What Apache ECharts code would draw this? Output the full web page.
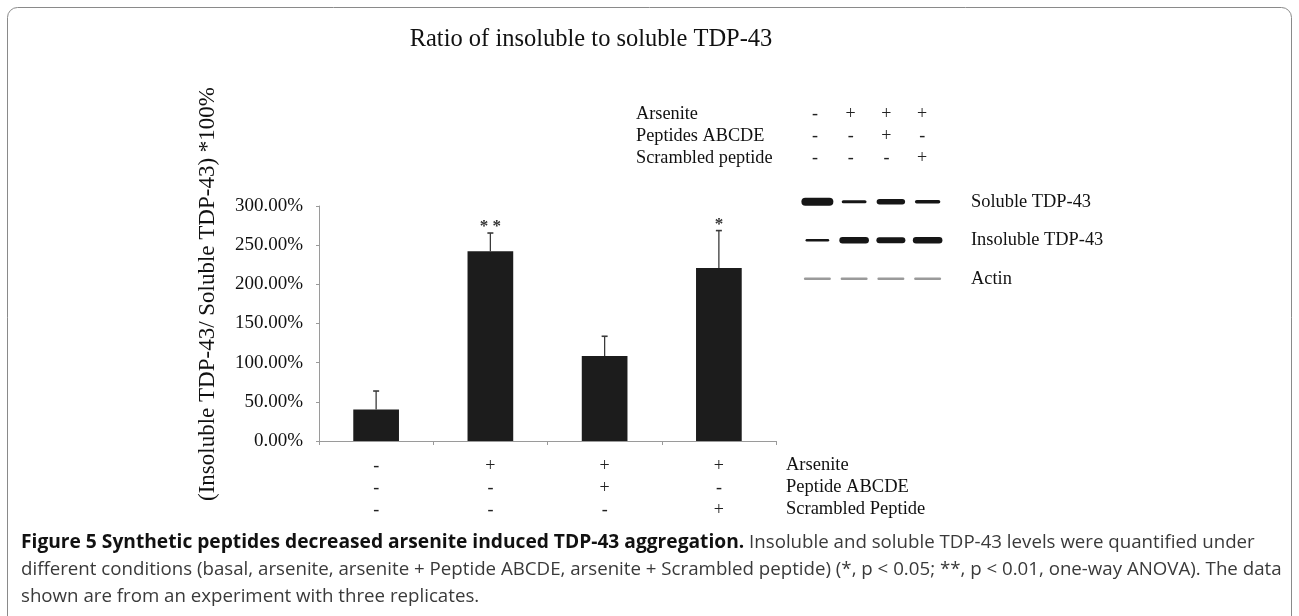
<!DOCTYPE html>
<html><head><meta charset="utf-8">
<script src="https://cdn.jsdelivr.net/npm/echarts@6/dist/echarts.min.js"></script>
<style>html,body{margin:0;padding:0;background:#fff}#c{width:1299px;height:616px}</style>
</head><body><div id="c"></div>
<script>
// ---- data ----
const conditions = ['Basal', 'Arsenite', 'Arsenite + Peptide ABCDE', 'Arsenite + Scrambled peptide'];
const arsenite = ['-', '+', '+', '+'];
const peptideABCDE = ['-', '-', '+', '-'];
const scrambledPeptide = ['-', '-', '-', '+'];
const bottomRowNames = ['Arsenite', 'Peptide ABCDE', 'Scrambled Peptide'];
const ratioMean = [40.1, 242.2, 108.5, 220.9];     // %
const ratioError = [23.7, 23.3, 25.2, 47.7];       // % (upper error)
const significance = ['', '* *', '', '*'];
const yMin = 0, yMax = 300, yStep = 50;

const blotLanes = ['1', '2', '3', '4'];
const blotRows = ['Soluble TDP-43', 'Insoluble TDP-43', 'Actin'];
const solubleIntensity = [1.0, 0.4, 0.7, 0.45];
const insolubleIntensity = [0.3, 0.8, 0.75, 0.8];
const actinIntensity = [0.3, 0.3, 0.3, 0.3];

const tableRows = ['Arsenite', 'Peptides ABCDE', 'Scrambled peptide'];
const tableArsenite = ['-', '+', '+', '+'];
const tablePeptides = ['-', '-', '+', '-'];
const tableScrambled = ['-', '-', '-', '+'];

const title = 'Ratio of insoluble to soluble TDP-43';
const yTitle = '(Insoluble TDP-43/ Soluble TDP-43) *100%';
const captionBold = 'Figure 5 Synthetic peptides decreased arsenite induced TDP-43 aggregation.';
const captionLines = [
  ' Insoluble and soluble TDP-43 levels were quantified under',
  'different conditions (basal, arsenite, arsenite + Peptide ABCDE, arsenite + Scrambled peptide) (*, p < 0.05; **, p < 0.01, one-way ANOVA). The data',
  'shown are from an experiment with three replicates.'
];

// ---- build ----
const SERIF = '"Liberation Serif", "Times New Roman", serif';
const SANS = '"Open Sans", "Noto Sans", sans-serif';

const errData = ratioMean.map((m, i) => [i, m, m + ratioError[i]]);
const blotData = [];
[solubleIntensity, insolubleIntensity, actinIntensity].forEach((arr, r) => arr.forEach((v, l) => blotData.push([l, r, v])));
const tableData = [];
[tableArsenite, tablePeptides, tableScrambled].forEach((arr, r) => arr.forEach((v, l) => tableData.push([l, r, v])));

const chart = echarts.init(document.getElementById('c'));
chart.setOption({
  backgroundColor: '#fff',
  animation: false,
  title: {
    text: title, left: 586, top: 22, textAlign: 'center',
    textStyle: { fontFamily: SERIF, fontSize: 24.5, fontWeight: 'normal', color: '#111' }
  },
  grid: [
    { left: 319, top: 206, right: 523, bottom: 175 },
    { left: 799, top: 182.5, width: 147, height: 115.5 },
    { left: 797, top: 103, width: 143, height: 66.6 }
  ],
  xAxis: [
    {
      gridIndex: 0, type: 'category', data: conditions,
      axisLine: { lineStyle: { color: '#9a9a9a', width: 1 } },
      axisTick: { show: true, length: 4, lineStyle: { color: '#9a9a9a' } },
      axisLabel: {
        interval: 0, margin: 14, fontFamily: SERIF, fontSize: 18, lineHeight: 22, color: '#222',
        formatter: (v, i) => arsenite[i] + '\n' + peptideABCDE[i] + '\n' + scrambledPeptide[i]
      }
    },
    { gridIndex: 1, type: 'category', data: blotLanes, show: false },
    { gridIndex: 2, type: 'category', data: blotLanes, show: false }
  ],
  yAxis: [
    {
      gridIndex: 0, type: 'value', min: yMin, max: yMax, interval: yStep,
      splitLine: { show: false },
      axisLine: { show: true, lineStyle: { color: '#9a9a9a', width: 1 } },
      axisTick: { show: true, length: 3, lineStyle: { color: '#9a9a9a' } },
      axisLabel: {
        margin: 16, fontFamily: SERIF, fontSize: 19, color: '#111',
        formatter: v => v.toFixed(2) + '%'
      }
    },
    {
      gridIndex: 1, type: 'category', data: blotRows, inverse: true, position: 'right',
      axisLine: { show: false }, axisTick: { show: false }, splitLine: { show: false },
      axisLabel: { interval: 0, align: 'left', margin: 25, fontFamily: SERIF, fontSize: 18.4, color: '#111' }
    },
    {
      gridIndex: 2, type: 'category', data: tableRows, inverse: true, position: 'left',
      axisLine: { show: false }, axisTick: { show: false }, splitLine: { show: false },
      axisLabel: { interval: 0, hideOverlap: false, align: 'left', margin: 161, fontFamily: SERIF, fontSize: 18.3, color: '#111' }
    }
  ],
  series: [
    {
      type: 'bar', xAxisIndex: 0, yAxisIndex: 0, data: ratioMean, barWidth: '40%',
      itemStyle: { color: '#1c1c1c' }
    },
    {
      type: 'custom', xAxisIndex: 0, yAxisIndex: 0, data: errData, z: 5,
      encode: { x: 0, y: [1, 2] },
      renderItem: (params, api) => {
        const x = api.value(0);
        const base = api.coord([x, api.value(1)]);
        const top = api.coord([x, api.value(2)]);
        const children = [
          { type: 'line', shape: { x1: base[0], y1: base[1], x2: top[0], y2: top[1] }, style: { stroke: '#3a3a3a', lineWidth: 1.3 } },
          { type: 'line', shape: { x1: top[0] - 3, y1: top[1], x2: top[0] + 3, y2: top[1] }, style: { stroke: '#3a3a3a', lineWidth: 1.6 } }
        ];
        const s = significance[params.dataIndex];
        if (s) children.push({ type: 'text', x: top[0], y: top[1] - 6, style: { text: s, font: 'bold 17px ' + SERIF, fill: '#333', align: 'center', verticalAlign: 'middle' } });
        return { type: 'group', children };
      }
    },
    {
      type: 'custom', xAxisIndex: 1, yAxisIndex: 1, data: blotData,
      renderItem: (params, api) => {
        const row = api.value(1), inten = api.value(2);
        const c = api.coord([api.value(0), row]);
        const h = Math.max(2.2, 8 * inten);
        const w = row === 2 ? 27 : 20 + 12 * inten;
        return { type: 'rect', shape: { x: c[0] - w / 2, y: c[1] - h / 2, width: w, height: h, r: h / 2 },
                 style: { fill: row === 2 ? '#9a9a9a' : '#161616' } };
      }
    },
    {
      type: 'custom', xAxisIndex: 2, yAxisIndex: 2, data: tableData,
      renderItem: (params, api) => {
        const c = api.coord([api.value(0), api.value(1)]);
        return { type: 'text', x: c[0], y: c[1], style: { text: tableData[params.dataIndex][2], font: '18px ' + SERIF, fill: '#222', align: 'center', verticalAlign: 'middle' } };
      }
    }
  ],
  graphic: [
    { type: 'rect', shape: { x: 7.5, y: 7.5, width: 1284, height: 660, r: 10 }, style: { fill: 'none', stroke: '#8a8a8a', lineWidth: 1 }, silent: true },
    { type: 'text', x: 208, y: 294, rotation: Math.PI / 2,
      style: { text: yTitle, font: '23px ' + SERIF, fill: '#111', align: 'center', verticalAlign: 'middle' } },
    { type: 'text', left: 786, top: 454.5,
      style: { text: bottomRowNames.join('\n'), font: '18.5px ' + SERIF, lineHeight: 22, fill: '#111' } },
    { type: 'text', left: 21, top: 529,
      style: {
        text: '{b|' + captionBold + '}' + captionLines[0] + '\n' + captionLines[1] + '\n' + captionLines[2],
        font: '18.7px ' + SANS, fill: '#3a3a3a', lineHeight: 27,
        rich: { b: { fontFamily: SANS, fontSize: 19.2, fontWeight: 'bold', fill: '#111', lineHeight: 27 } }
      } }
  ]
});
</script></body></html>
